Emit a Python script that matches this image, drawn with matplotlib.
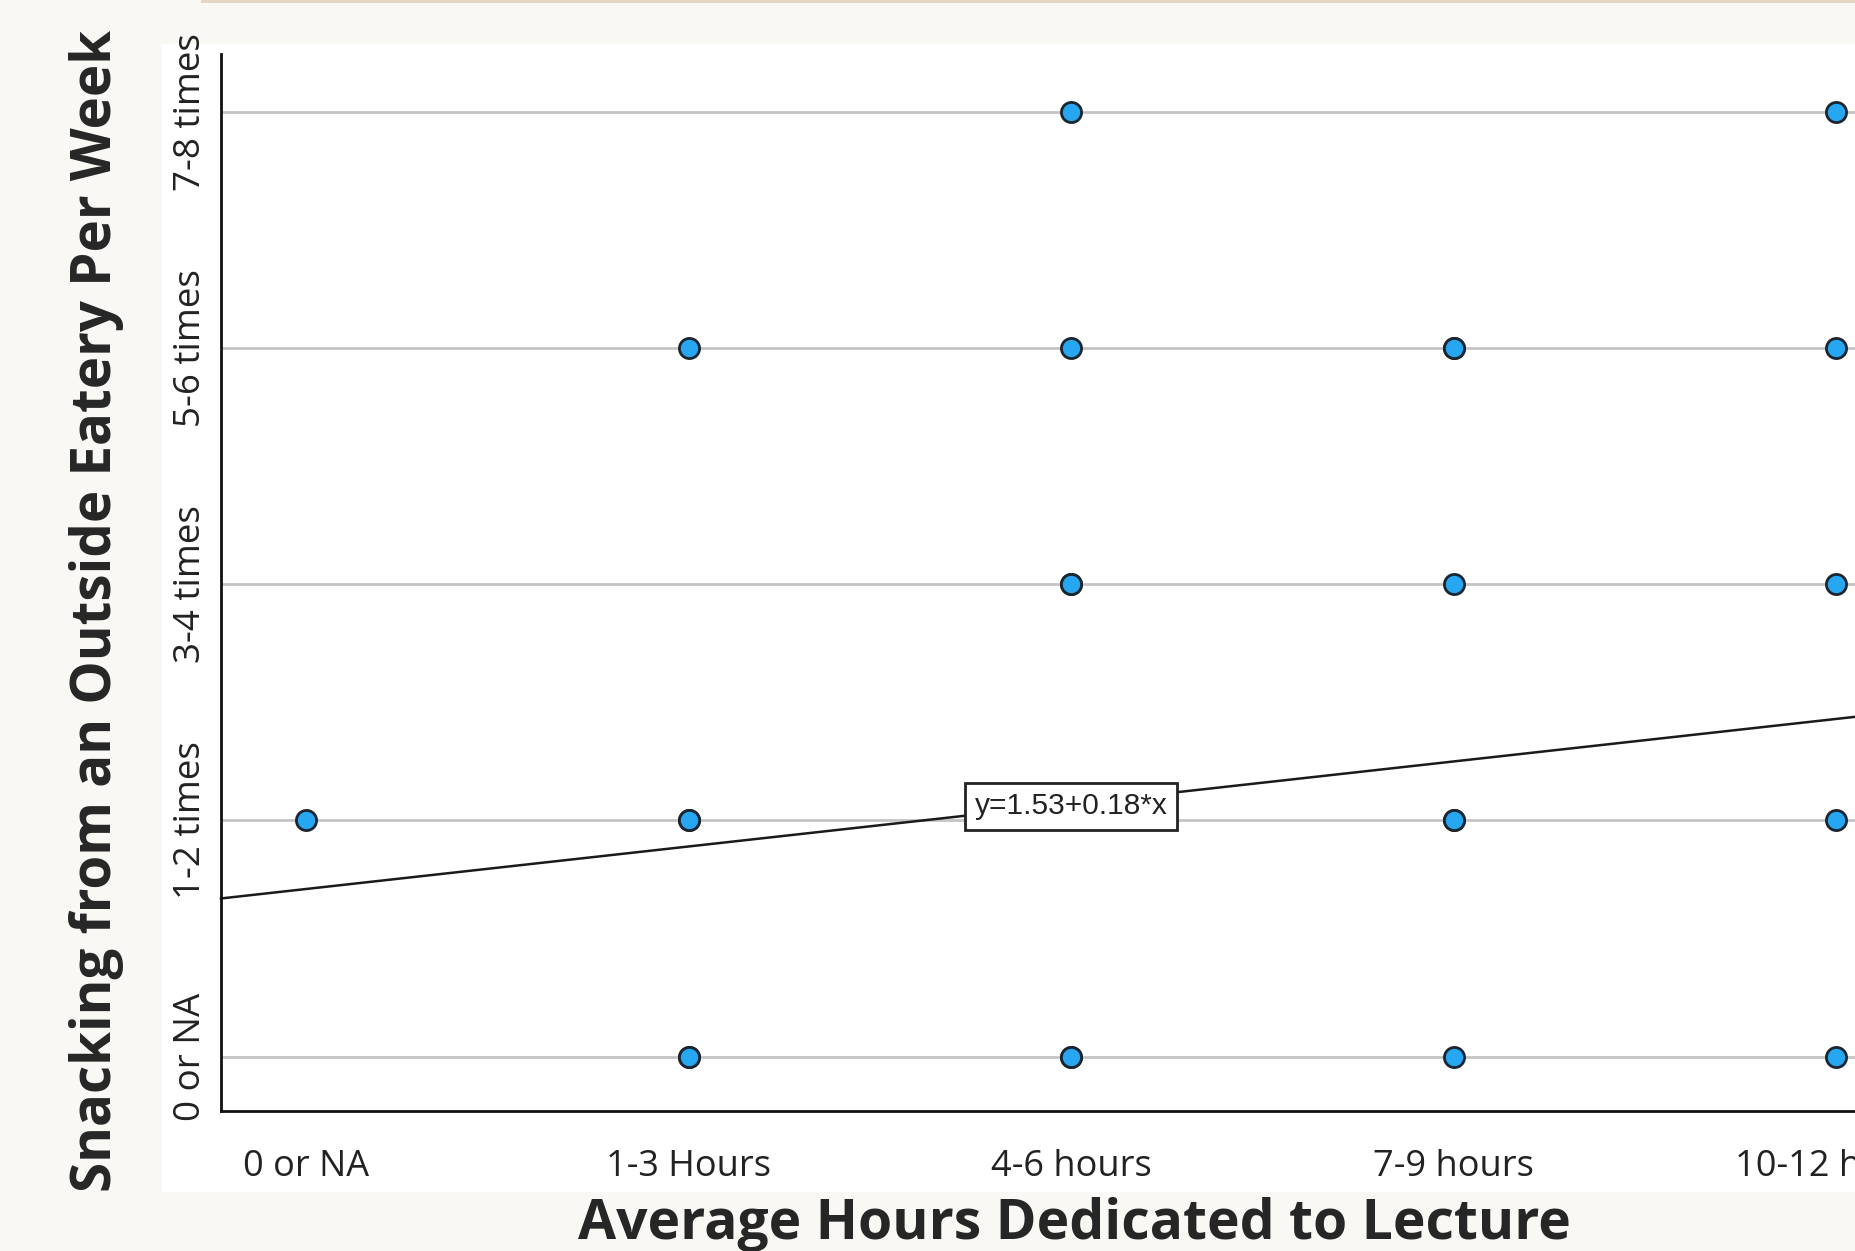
import numpy as np
import matplotlib
matplotlib.use("Agg")
import matplotlib.pyplot as plt
from matplotlib.patches import Rectangle

# ---- data ----
x_categories = ["0 or NA", "1-3 Hours", "4-6 hours", "7-9 hours", "10-12 hours"]
y_categories = ["0 or NA", "1-2 times", "3-4 times", "5-6 times", "7-8 times"]
# observed (x index, y index) pairs; repeats mark overlapping cases
point_x = [2, 4, 1, 2, 3, 3, 4, 2, 2, 3, 4, 0, 1, 1, 3, 3, 4, 1, 1, 2, 2, 3, 4]
point_y = [4, 4, 3, 3, 3, 3, 3, 2, 2, 2, 2, 1, 1, 1, 1, 1, 1, 0, 0, 0, 0, 0, 0]
intercept = 1.53
slope = 0.18
fit_label = "y=1.53+0.18*x"
x_title = "Average Hours Dedicated to Lecture"
y_title = "Snacking from an Outside Eatery Per Week"

W, H = 1855, 1251
fig = plt.figure(figsize=(W / 100, H / 100), dpi=100)
fig.patch.set_facecolor("#f9f8f4")

# beige top strip and white chart panel
fig.add_artist(Rectangle((201 / W, 1 - 3 / H), 1, 3 / H, transform=fig.transFigure,
                         facecolor="#e3d6c2", edgecolor="none", zorder=0))
fig.add_artist(Rectangle((162 / W, 1 - 1192 / H), 1, (1192 - 44) / H,
                         transform=fig.transFigure, facecolor="white",
                         edgecolor="none", zorder=0))

ax_left = 221 / W
ax_bottom = 1 - 1111 / H
ax_top = 1 - 54 / H
ax_right = 1921.7 / W
ax = fig.add_axes([ax_left, ax_bottom, ax_right - ax_left, ax_top - ax_bottom])
ax.set_facecolor("none")

ax.set_xlim(-0.223, len(x_categories) - 1 + 0.223)
ax.set_ylim(-0.23, len(y_categories) - 1 + 0.245)

for s in ["top", "right"]:
    ax.spines[s].set_visible(False)
for s in ["left", "bottom"]:
    ax.spines[s].set_linewidth(2.0)
    ax.spines[s].set_color("#111111")

ax.set_xticks(range(len(x_categories)))
ax.set_xticklabels(x_categories, fontfamily="Open Sans", fontsize=26, color="#222222")
ax.set_yticks(range(len(y_categories)))
ax.set_yticklabels(y_categories, fontfamily="Open Sans", fontsize=26.5, color="#222222",
                   rotation=90, va="center")
ax.tick_params(axis="x", length=0, pad=27)
ax.tick_params(axis="y", length=0, pad=9)

# horizontal reference lines
for j in range(len(y_categories)):
    ax.axhline(j, color="#c4c4c4", lw=2.0, zorder=1)

# fit line (coded categories start at 1)
xs = np.linspace(ax.get_xlim()[0], ax.get_xlim()[1], 50)
ys = intercept + slope * (xs + 1) - 1
ax.plot(xs, ys, color="#1a1a1a", lw=1.8, zorder=2, clip_on=False)

ax.scatter(point_x, point_y, s=210, color="#27a6f2", edgecolor="#1b2530",
           linewidth=2.0, zorder=4, clip_on=False)

ax.text(2.0, 1.06, fit_label, ha="center", va="center", fontsize=21.5,
        fontfamily="Liberation Sans", color="#222222", zorder=5,
        bbox=dict(boxstyle="square,pad=0.32", facecolor="white",
                  edgecolor="#222222", linewidth=2.0))

fig.text(1074 / W, 1 - 1224 / H, x_title, ha="center", va="center",
         fontsize=39.8, fontweight="bold", fontfamily="Open Sans", color="#262626")
fig.text(97 / W, 1 - 611 / H, y_title, ha="center", va="center", rotation=90,
         fontsize=39.3, fontweight="bold", fontfamily="Open Sans", color="#262626")

fig.savefig("out.png", dpi=100, facecolor=fig.get_facecolor())
